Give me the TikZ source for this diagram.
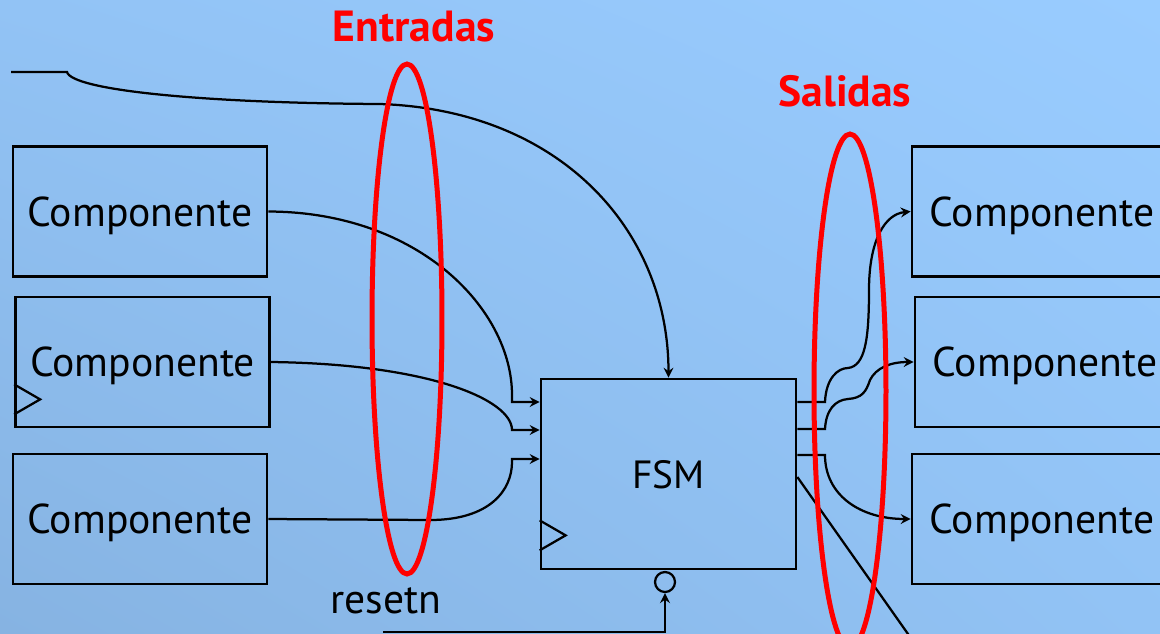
\documentclass[tikz,border=0pt]{standalone}
\usepackage{fontspec}
\setmainfont{PT Sans}
\usetikzlibrary{arrows.meta,calc,shadings}
\definecolor{bgdark}{RGB}{134,179,226}
\definecolor{bgmid}{RGB}{146,195,245}
\definecolor{bglight}{RGB}{153,204,255}
\definecolor{ringred}{RGB}{255,0,0}
\tikzset{
  box/.style={
    draw=black,
    line width=0.55mm,
    minimum width=5.08cm,
    minimum height=2.6cm,
    inner sep=0pt,
    text depth=0pt,
    font=\fontsize{23.7}{26}\selectfont
  },
  wire/.style={line width=0.45mm},
  arrowwire/.style={wire, -{Stealth[length=2mm,width=2mm,inset=0.7mm]}},
  ring/.style={draw=ringred, line width=1mm},
  tag/.style={text=ringred, font=\bfseries\fontsize{24.8}{28}\selectfont}
}
\newcommand{\clockmark}[2]{%
  \draw[wire] ($(#1.south west)+(0,-#2)$) -- ++(26,-15) -- ++(-26,-15);
}

\begin{document}
\begin{tikzpicture}[x=0.02cm, y=-0.02cm]
  \useasboundingbox (0,0) rectangle (1160,633);
  \shade[upper left=bgmid, upper right=bglight, lower left=bgdark,
    lower right=bgmid] (0,0) rectangle (1160,633);
  \clip (0,0) rectangle (1160,633);

  % components feeding the machine
  \node[box] (compA) at (140,211.5) {Componente};
  \node[box] (compB) at (142.5,362) {Componente};
  \node[box] (compC) at (140,519) {Componente};
  \clockmark{compB}{14}

  % components driven by the machine
  \foreach \n/\x/\y in {A/1042/211.5, B/1045/362, C/1042/519}
    \node[box, minimum width=5.2cm] (out\n) at (\x,\y) {Componente};

  \node[box, minimum width=5.1cm, minimum height=3.8cm,
    font=\fontsize{22.4}{26}\selectfont] (fsm) at (668.5,474) {FSM};
  \clockmark{fsm}{20}
  \node[circle, draw, wire, minimum size=0.4cm, inner sep=0pt] (rstn) at (665,582) {};

  \node[tag] (inlabel) at (414,27) {Entradas};
  \node[tag] (outlabel) at (845,91) {Salidas};
  \node[font=\fontsize{23.7}{26}\selectfont] (rstlabel) at (386,601) {resetn};

  \coordinate (clkin) at (11,72);
  \coordinate (rstin) at (383,632);
  \coordinate (offpage) at (920,651);

  % inputs
  \draw[arrowwire] (clkin) -- (67,72) .. controls (72,90) and (200,103) .. (380,104)
    .. controls (560,110) and (fsm.north |- 0,230) .. (fsm.north);
  \draw[arrowwire] (compA.east) .. controls (420,212) and (512,310) .. (512,395)
    -- (512,402) -- (fsm.west |- 0,402);
  \draw[arrowwire] (compB.east) .. controls (430,364) and (512,400) .. (512,430)
    -- (fsm.west |- 0,430);
  \draw[arrowwire] (compC.east) -- (430,520) .. controls (490,520) and (512,490) .. (512,462)
    -- (512,459) -- (fsm.west |- 0,459);
  \draw[arrowwire] (rstin) -- (rstin -| rstn.south) -- (rstn.south);

  % outputs
  \draw[arrowwire] (fsm.east |- 0,402) -- (825,402) .. controls (826,378) and (838,368) .. (848,368)
    .. controls (865,366) and (869,340) .. (869,290)
    .. controls (869,240) and (885,214) .. (outA.west);
  \draw[arrowwire] (fsm.east |- 0,429) -- (825,429) .. controls (826,410) and (835,400) .. (848,399)
    .. controls (862,398) and (866,392) .. (870,380)
    .. controls (876,368) and (890,362) .. (outB.west);
  \draw[arrowwire] (fsm.east |- 0,455) -- (825,455) .. controls (825,495) and (860,519) .. (outC.west);
  \draw[wire] (fsm.east |- 0,477) -- (offpage);

  \draw[ring] (407,319) ellipse [x radius=0.7cm, y radius=5.1cm];
  \draw[ring] (850,391) ellipse [x radius=0.72cm, y radius=5.14cm];
\end{tikzpicture}
\end{document}
